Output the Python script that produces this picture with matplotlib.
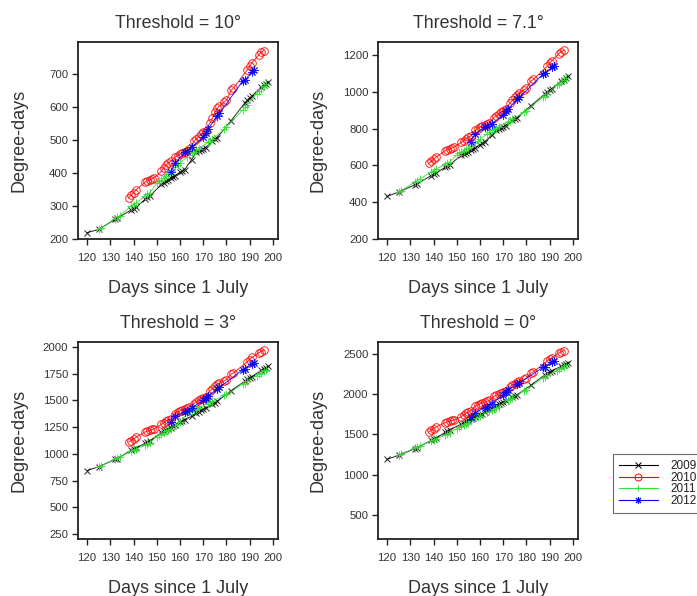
import matplotlib
matplotlib.use("Agg")
import matplotlib.pyplot as plt
from matplotlib.lines import Line2D

plt.rcParams['font.family'] = ['Liberation Sans', 'DejaVu Sans']

years = ["2009", "2010", "2011", "2012"]
thresholds = ["10", "7.1", "3", "0"]

days_2009 = [120, 125, 132, 133, 139, 140, 141, 145, 146, 147, 152, 153, 154, 155, 156, 157, 158,
             160, 161, 162, 165, 167, 168, 169, 170, 171, 174, 175, 176, 182, 188, 189, 190, 191,
             195, 196, 197, 198]
days_2010 = [138, 139, 140, 141, 145, 146, 147, 148, 149, 152, 153, 154, 155, 156, 158, 159, 160,
             161, 162, 163, 164, 166, 167, 168, 169, 170, 171, 173, 174, 175, 176, 177, 179, 180,
             182, 183, 189, 190, 191, 194, 195, 196]
days_2011 = [125, 126, 132, 133, 134, 139, 140, 141, 145, 146, 147, 150, 151, 152, 153, 154, 155,
             156, 158, 159, 160, 163, 164, 165, 166, 167, 168, 172, 173, 174, 179, 180, 187, 188,
             189, 193, 194, 195, 196, 197]
days_2012 = [156, 158, 162, 163, 165, 170, 171, 172, 176, 177, 187, 188, 191, 192]

# Threshold = 10
dd10_2009 = [219, 229, 259, 263, 288, 292, 296, 320, 326, 330, 365, 370, 374, 378, 384, 388, 392,
             402, 406, 410, 440, 462, 466, 469, 472, 476, 497, 502, 507, 558, 612, 620, 627, 633,
             660, 665, 670, 675]
dd10_2010 = [325, 333, 340, 348, 372, 376, 379, 382, 385, 405, 415, 424, 430, 435, 448, 452, 456,
             460, 464, 467, 472, 495, 502, 510, 517, 523, 528, 552, 566, 585, 595, 603, 614, 620,
             650, 656, 712, 722, 733, 758, 765, 770]
dd10_2011 = [229, 232, 262, 266, 270, 300, 304, 308, 330, 335, 340, 368, 375, 380, 386, 392, 398,
             405, 418, 424, 430, 448, 455, 460, 463, 468, 472, 492, 497, 502, 532, 540, 590, 598,
             605, 640, 648, 655, 662, 668]
dd10_2012 = [402, 430, 462, 466, 478, 508, 520, 532, 572, 580, 678, 682, 705, 710]

# Threshold = 7.1
dd71_2009 = [432, 455, 495, 500, 545, 552, 558, 590, 598, 605, 655, 662, 668, 675, 683, 690, 697,
             712, 720, 727, 765, 790, 797, 803, 810, 817, 845, 852, 860, 925, 990, 1000, 1010, 1018,
             1058, 1066, 1075, 1084]
dd71_2010 = [612, 622, 635, 645, 680, 685, 690, 695, 700, 725, 735, 745, 752, 760, 790, 800, 808,
             815, 820, 825, 830, 860, 870, 880, 890, 898, 905, 940, 955, 970, 985, 995, 1010, 1020,
             1060, 1068, 1140, 1155, 1170, 1208, 1218, 1225]
dd71_2011 = [455, 462, 510, 518, 525, 565, 572, 580, 605, 612, 620, 655, 665, 672, 680, 688, 695,
             705, 722, 732, 742, 770, 780, 790, 796, 802, 808, 835, 842, 850, 890, 898, 970, 980,
             990, 1035, 1045, 1055, 1065, 1075]
dd71_2012 = [730, 770, 810, 815, 825, 875, 895, 905, 960, 970, 1095, 1100, 1135, 1140]

# Threshold = 3
dd3_2009 = [845, 880, 948, 956, 1035, 1044, 1052, 1100, 1112, 1122, 1200, 1212, 1222, 1232, 1245,
            1258, 1270, 1295, 1305, 1318, 1350, 1385, 1395, 1405, 1415, 1425, 1465, 1478, 1490,
            1590, 1680, 1695, 1710, 1722, 1780, 1793, 1805, 1818]
dd3_2010 = [1112, 1125, 1140, 1155, 1205, 1212, 1220, 1228, 1235, 1275, 1290, 1305, 1315, 1325,
            1375, 1390, 1400, 1410, 1420, 1428, 1435, 1470, 1485, 1500, 1512, 1525, 1535, 1590,
            1610, 1630, 1650, 1662, 1680, 1692, 1745, 1755, 1860, 1880, 1900, 1945, 1955, 1965]
dd3_2011 = [880, 890, 950, 960, 970, 1025, 1035, 1045, 1085, 1095, 1105, 1160, 1172, 1185, 1198,
            1210, 1222, 1235, 1265, 1280, 1295, 1375, 1390, 1400, 1410, 1420, 1430, 1470, 1480,
            1492, 1545, 1555, 1650, 1665, 1680, 1730, 1745, 1758, 1770, 1782]
dd3_2012 = [1300, 1350, 1390, 1400, 1430, 1500, 1525, 1540, 1605, 1620, 1785, 1795, 1840, 1848]

# Threshold = 0
dd0_2009 = [1190, 1240, 1322, 1335, 1425, 1436, 1450, 1525, 1540, 1555, 1630, 1645, 1660, 1672,
            1688, 1702, 1716, 1745, 1758, 1772, 1820, 1860, 1873, 1887, 1900, 1913, 1960, 1975,
            1990, 2110, 2240, 2255, 2270, 2285, 2345, 2360, 2375, 2390]
dd0_2010 = [1530, 1550, 1570, 1590, 1645, 1655, 1665, 1672, 1680, 1720, 1740, 1760, 1775, 1790,
            1850, 1865, 1878, 1890, 1900, 1910, 1920, 1970, 1985, 2000, 2012, 2025, 2035, 2090,
            2110, 2130, 2150, 2162, 2180, 2195, 2260, 2275, 2410, 2430, 2450, 2510, 2522, 2535]
dd0_2011 = [1245, 1255, 1330, 1342, 1355, 1420, 1432, 1445, 1490, 1505, 1520, 1570, 1585, 1600,
            1615, 1630, 1645, 1660, 1700, 1715, 1730, 1775, 1790, 1805, 1818, 1830, 1842, 1930,
            1943, 1955, 2040, 2055, 2200, 2215, 2230, 2290, 2305, 2320, 2340, 2355]
dd0_2012 = [1720, 1770, 1830, 1845, 1880, 1990, 2030, 2050, 2120, 2135, 2330, 2340, 2395, 2405]

panels = [
    (dd10_2009, dd10_2010, dd10_2011, dd10_2012),
    (dd71_2009, dd71_2010, dd71_2011, dd71_2012),
    (dd3_2009, dd3_2010, dd3_2011, dd3_2012),
    (dd0_2009, dd0_2010, dd0_2011, dd0_2012),
]
all_days = [days_2009, days_2010, days_2011, days_2012]

yticks = [
    [200, 300, 400, 500, 600, 700],
    [200, 400, 600, 800, 1000, 1200],
    [250, 500, 750, 1000, 1250, 1500, 1750, 2000],
    [500, 1000, 1500, 2000, 2500],
]
ylims = [(200, 796), (200, 1271), (206, 2044), (202, 2645)]
xticks = [120, 130, 140, 150, 160, 170, 180, 190, 200]

colors = ["black", "#ff0000", "#33dd33", "#0000ff"]
markers = ["x", "o", "+", (8, 2, 0)]
msizes = [4, 5.5, 5.5, 6]

W, H = 697, 596
fig = plt.figure(figsize=(W / 100, H / 100), dpi=100)

pos = [(78, 42), (378, 42), (78, 342), (378, 342)]
aw, ah = 200, 197
txtcol = "#333333"

for i in range(4):
    x0, y0 = pos[i]
    ax = fig.add_axes([x0 / W, 1 - (y0 + ah) / H, aw / W, ah / H])
    for j in range(4):
        ax.plot(all_days[j], panels[i][j], color=colors[j], marker=markers[j], ms=msizes[j],
                mfc="none", mec=colors[j], mew=0.7, lw=0.7, alpha=0.85)
    ax.set_xlim(116.1, 202.2)
    ax.set_ylim(*ylims[i])
    ax.set_xticks(xticks)
    ax.set_yticks(yticks[i])
    ax.tick_params(direction="out", length=4, width=1, labelsize=8.2, colors="#222222",
                   labelcolor=txtcol, pad=3)
    ax.tick_params(axis="x", pad=6)
    for s in ax.spines.values():
        s.set_linewidth(1.3)
        s.set_color("#222222")
    ax.set_title("Threshold = " + thresholds[i] + "\u00b0", fontsize=12.8, color=txtcol, pad=10)
    ax.set_xlabel("Days since 1 July", fontsize=13, color=txtcol, labelpad=12)
    ax.set_ylabel("Degree-days", fontsize=13, color=txtcol)
    ax.yaxis.set_label_coords(-0.255, 0.5)

handles = [Line2D([], [], color=colors[j], marker=markers[j], ms=5, mfc="none",
                  mec=colors[j], mew=0.7, lw=0.8) for j in range(4)]
leg = fig.legend(handles, years, loc="upper left", bbox_to_anchor=(613 / W, 1 - 454 / H),
                 fontsize=8.5, frameon=True, fancybox=False, edgecolor="#444444",
                 labelspacing=-0.02, handlelength=3.3, handletextpad=1.1, borderpad=0.5,
                 borderaxespad=0)
leg.get_frame().set_linewidth(0.8)
for t in leg.get_texts():
    t.set_color("#222222")

fig.savefig("out.png", dpi=100, facecolor="white")
